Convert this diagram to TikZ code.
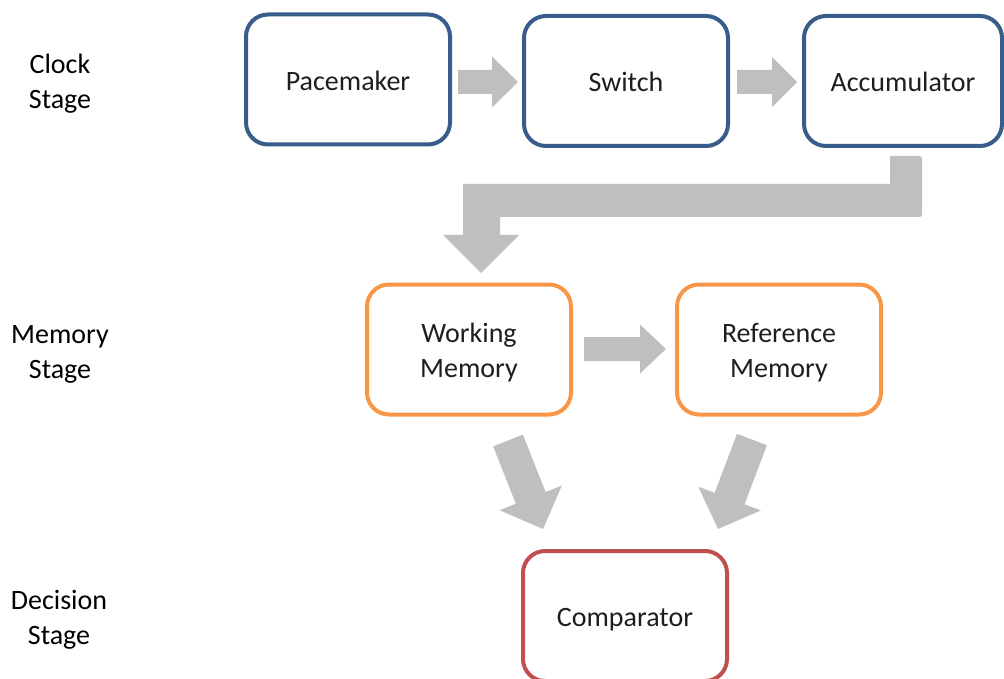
\documentclass[tikz,border=0pt]{standalone}
\usepackage{fontspec}
\setmainfont{Carlito}
\definecolor{clockblue}{HTML}{385D8A}
\definecolor{memorange}{HTML}{F79646}
\definecolor{decred}{HTML}{C0504D}
\definecolor{arrowgray}{HTML}{BFBFBF}
\definecolor{inktext}{HTML}{1E1E1E}
\tikzset{
  boxtext/.style={align=center, text=inktext, font=\fontsize{28}{35}\selectfont},
  stagebox/.style={draw, line width=4pt, rounded corners=22pt, fill=white,
    minimum width=204pt, minimum height=130pt},
  clockbox/.style={stagebox, draw=clockblue},
  membox/.style={stagebox, draw=memorange},
  decbox/.style={stagebox, draw=decred},
  stagelabel/.style={align=center, text=black, font=\fontsize{28}{35}\selectfont},
  % straight block arrow: length / shaft width / head width / head length
  pics/blockarrow/.style args={#1/#2/#3/#4}{code={
    \fill[arrowgray] (0,-#2/2) -- (#1-#4,-#2/2) -- (#1-#4,-#3/2) -- (#1,0)
      -- (#1-#4,#3/2) -- (#1-#4,#2/2) -- (0,#2/2) -- cycle;
  }}
}
\begin{document}
\begin{tikzpicture}[x=1pt, y=-1pt]
\useasboundingbox (0,0) rectangle (1004,679);
\clip (0,0) rectangle (1004,679);

% stage labels
\node[stagelabel] (lclock) at (60,84) {Clock\\Stage};
\node[stagelabel] (lmem) at (60,354) {Memory\\Stage};
\node[stagelabel] (ldec) at (59,620) {Decision\\Stage};

% clock stage
\node[clockbox, label={[boxtext, yshift=-1pt]center:Pacemaker}] (pace) at (348,79.5) {};
\node[clockbox, label={[boxtext, yshift=-1pt]center:Switch}] (switch) at (626,81) {};
\node[clockbox, minimum width=198pt,
  label={[boxtext, yshift=-1pt]center:Accumulator}] (accu) at (903,81) {};

% memory stage
\node[membox, label={[boxtext, yshift=-3pt]center:Working\\Memory}] (work) at (469,349.5) {};
\node[membox, label={[boxtext, yshift=-3pt]center:Reference\\Memory}] (ref) at (779,349.5) {};

% decision stage
\node[decbox, label={[boxtext, yshift=-4pt]center:Comparator}] (comp) at (625,616) {};

% block arrows between the boxes
\coordinate (a1) at (458,82);
\coordinate (a2) at (737,82);
\coordinate (a3) at (584,349);
\coordinate (a4) at (508,440.5);
\coordinate (a5) at (752,439.5);
\pic at (a1) {blockarrow=60/24/51/26};
\pic at (a2) {blockarrow=60/24/50/25};
\pic at (a3) {blockarrow=82/24/49/26};
\pic[rotate=-68.4] at (a4) {blockarrow=95.2/32/67/33.5};
\pic[rotate=-110.8] at (a5) {blockarrow=95.7/32/67/32.5};

% bent arrow from the accumulator down to working memory
\coordinate (b0) at (890,156);
\fill[arrowgray] (b0) -- (919.5,156) to[out=0,in=90] (922,158.5) -- (922,214.5)
  to[out=270,in=0] (919.5,217) -- (500,217) -- (500,235) -- (519,235)
  -- (481,273) -- (443,235) -- (463,235) -- (463,184) -- (890,184) -- cycle;
\end{tikzpicture}
\end{document}
